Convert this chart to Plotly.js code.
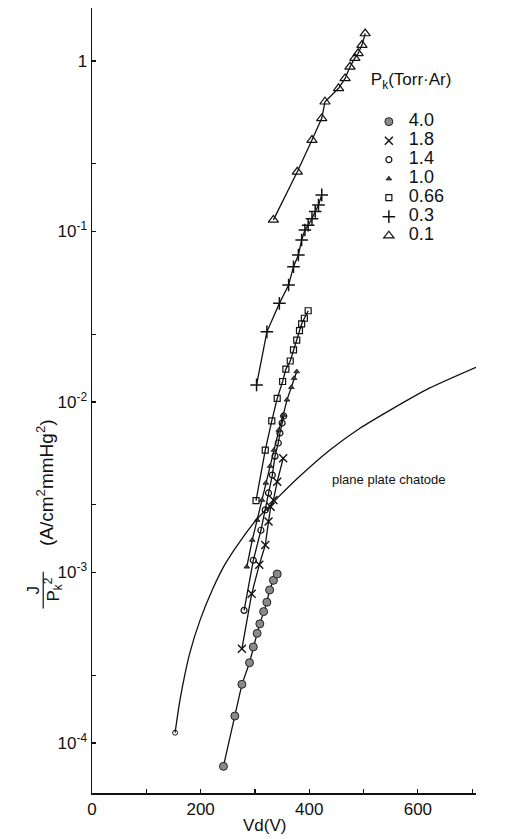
<!DOCTYPE html>
<html>
<head>
<meta charset="utf-8">
<script src="https://cdn.plot.ly/plotly-3.0.1.min.js"></script>
<style>html,body{margin:0;padding:0;background:#fff;}#chart{width:506px;height:839px;}</style>
</head>
<body>
<div id="chart"></div>
<script>
// ---- data (Vd in volts, J/Pk^2 in A/cm^2 mmHg^2) ----
const seriesNames = ['4.0', '1.8', '1.4', '1.0', '0.66', '0.3', '0.1'];

const v_40 = [242, 263, 276, 290, 297, 304, 309, 316, 322, 327, 334, 341];
const j_40 = [7.3e-5, 1.44e-4, 2.21e-4, 2.96e-4, 3.66e-4, 4.4e-4, 5.0e-4, 5.9e-4, 6.7e-4, 7.9e-4, 9.0e-4, 9.8e-4];

const v_18 = [276, 294, 308, 319, 325, 329, 334, 341, 352];
const j_18 = [3.57e-4, 7.5e-4, 1.11e-3, 1.45e-3, 1.99e-3, 2.43e-3, 2.66e-3, 3.41e-3, 4.68e-3];

const v_14 = [280, 297, 311, 319, 325, 332, 337, 343, 346, 350, 353];
const j_14 = [6.0e-4, 1.18e-3, 1.77e-3, 2.33e-3, 2.93e-3, 3.73e-3, 4.82e-3, 5.75e-3, 6.58e-3, 7.53e-3, 8.28e-3];

const v_10 = [285, 295, 304, 313, 320, 328, 335, 344, 352, 359, 367, 372, 377];
const j_10 = [1.08e-3, 1.55e-3, 2.03e-3, 2.66e-3, 3.35e-3, 4.21e-3, 5.23e-3, 6.85e-3, 8.39e-3, 1.03e-2, 1.22e-2, 1.38e-2, 1.51e-2];

const v_066 = [302, 319, 331, 341, 351, 357, 365, 371, 377, 382, 386, 391, 398];
const j_066 = [2.64e-3, 5.23e-3, 7.76e-3, 1.05e-2, 1.32e-2, 1.56e-2, 1.74e-2, 2.02e-2, 2.31e-2, 2.62e-2, 2.87e-2, 3.10e-2, 3.43e-2];

const v_03 = [303, 322, 345, 362, 371, 380, 386, 392, 398, 405, 411, 417, 423];
const j_03 = [0.0126, 0.0258, 0.0379, 0.0486, 0.0622, 0.0729, 0.0892, 0.102, 0.109, 0.119, 0.131, 0.143, 0.164];

const v_01 = [334, 378, 405, 423, 429, 454, 466, 475, 484, 490, 497, 503];
const j_01 = [0.117, 0.224, 0.344, 0.461, 0.577, 0.692, 0.791, 0.925, 1.04, 1.11, 1.24, 1.45];

// plane plate cathode reference curve
const v_plane = [153, 162, 180, 199, 223, 245, 273, 304, 343, 383, 438, 494, 549, 622, 707];
const j_plane = [1.15e-4, 1.79e-4, 3.37e-4, 5.26e-4, 8.11e-4, 1.12e-3, 1.53e-3, 2.06e-3, 2.77e-3, 3.68e-3, 5.23e-3, 7.04e-3, 8.97e-3, 1.21e-2, 1.60e-2];
const v_planeStart = [153];
const j_planeStart = [1.15e-4];

const xTickVals = [0, 100, 200, 300, 400, 500, 600, 700];
const xTickText = ['0', '', '200', '', '400', '', '600', ''];
const yTickVals = [1e-4, 2.5e-4, 1e-3, 2.5e-3, 1e-2, 2.5e-2, 1e-1, 2.5e-1, 1];
const yTickText = ['10<sup>-4</sup>', '', '10<sup>-3</sup>', '', '10<sup>-2</sup>', '', '10<sup>-1</sup>', '', '1'];

// ---- styles ----
const FONT = 'Liberation Sans, Arial, sans-serif';
const markerStyles = {
  '4.0':  {symbol: 'circle', size: 8, color: '#8a8a8a', line: {color: '#222', width: 1}},
  '1.8':  {symbol: 'x-thin-open', size: 8, color: '#111', line: {color: '#111', width: 1.4}},
  '1.4':  {symbol: 'circle-open', size: 6, color: '#111', line: {color: '#111', width: 1.2}},
  '1.0':  {symbol: 'triangle-up', size: 5, color: '#444', line: {color: '#111', width: 0.8}},
  '0.66': {symbol: 'square-open', size: 6, color: '#111', line: {color: '#111', width: 1.2}},
  '0.3':  {symbol: 'cross-thin-open', size: 9, color: '#111', line: {color: '#111', width: 1.5}},
  '0.1':  {symbol: 'triangle-up-open', size: 9, color: '#111', line: {color: '#111', width: 1.2}}
};
const seriesX = [v_40, v_18, v_14, v_10, v_066, v_03, v_01];
const seriesY = [j_40, j_18, j_14, j_10, j_066, j_03, j_01];

const traces = [];
seriesNames.forEach((name, i) => {
  traces.push({x: seriesX[i], y: seriesY[i], mode: 'lines', type: 'scatter',
    line: {color: '#111', width: 1.3}, showlegend: false, hoverinfo: 'skip'});
});
seriesNames.forEach((name, i) => {
  traces.push({x: seriesX[i], y: seriesY[i], mode: 'markers', type: 'scatter',
    name: '<span style="font-size:18px">' + name + '</span>',
    marker: markerStyles[name], showlegend: true});
});
traces.push({x: v_plane, y: j_plane, mode: 'lines', type: 'scatter', line: {color: '#111', width: 1.3, shape: 'spline', smoothing: 0.6}, showlegend: false});
traces.push({x: v_planeStart, y: j_planeStart, mode: 'markers', type: 'scatter',
  marker: {symbol: 'circle-open', size: 5, color: '#111', line: {width: 1}}, showlegend: false});

const layout = {
  width: 506, height: 839,
  margin: {l: 92, r: 30, t: 8, b: 46},
  paper_bgcolor: '#fff', plot_bgcolor: '#fff',
  font: {family: FONT, color: '#111', size: 15},
  showlegend: true,
  legend: {
    x: 0.721, y: 0.93, xanchor: 'left', yanchor: 'top',
    font: {family: FONT, size: 12, color: '#111'},
    title: {text: 'P<sub>k</sub>(Torr·Ar)<br> ', font: {family: FONT, size: 17, color: '#111'}},
    bgcolor: 'rgba(0,0,0,0)', itemwidth: 30, tracegroupgap: 0
  },
  xaxis: {
    range: [0, 707], showgrid: false, zeroline: false,
    showline: true, linecolor: '#111', linewidth: 1.5,
    ticks: 'inside', ticklen: 4, tickwidth: 1.2, tickcolor: '#111',
    tickvals: xTickVals, ticktext: xTickText,
    tickfont: {family: FONT, size: 17, color: '#111'}
  },
  yaxis: {
    type: 'log', range: [-4.293, 0.311], showgrid: false, zeroline: false,
    showline: true, linecolor: '#111', linewidth: 1.5,
    ticks: 'inside', ticklen: 4, tickwidth: 1.2, tickcolor: '#111',
    tickvals: yTickVals, ticktext: yTickText,
    tickfont: {family: FONT, size: 17, color: '#111'}
  },
  annotations: [
    {xref: 'paper', yref: 'paper', x: 0.45, y: -0.0420, xanchor: 'center', yanchor: 'middle',
     text: 'Vd(V)', showarrow: false, font: {family: FONT, size: 17, color: '#111'}},
    {xref: 'paper', yref: 'paper', x: -0.122, y: 0.395, xanchor: 'center', yanchor: 'middle',
     text: '(A/cm<sup>2</sup>mmHg<sup>2</sup>)', textangle: -90, showarrow: false,
     font: {family: FONT, size: 19, color: '#111'}},
    {xref: 'paper', yref: 'paper', x: -0.150, y: 0.2586, xanchor: 'center', yanchor: 'middle',
     text: 'J', textangle: -90, showarrow: false, font: {family: FONT, size: 17, color: '#111'}},
    {xref: 'paper', yref: 'paper', x: -0.100, y: 0.2586, xanchor: 'center', yanchor: 'middle',
     text: 'P<sub>k</sub><sup>2</sup>', textangle: -90, showarrow: false, font: {family: FONT, size: 17, color: '#111'}},
    {xref: 'x', yref: 'y', x: 438, y: -2.457, xanchor: 'left', yanchor: 'middle',
     text: 'plane plate chatode', showarrow: false, font: {family: FONT, size: 13, color: '#111'}}
  ],
  shapes: [
    {type: 'line', xref: 'paper', yref: 'paper', x0: -0.127, x1: -0.127, y0: 0.235, y1: 0.282,
     line: {color: '#111', width: 1.2}}
  ]
};

Plotly.newPlot('chart', traces, layout, {staticPlot: true, displayModeBar: false});
</script>
</body>
</html>
